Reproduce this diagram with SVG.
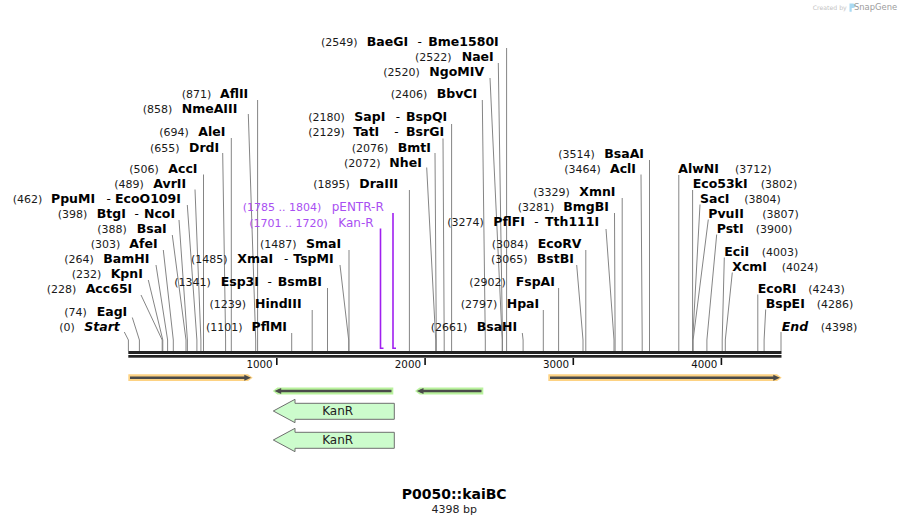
<svg xmlns="http://www.w3.org/2000/svg" width="910" height="525" viewBox="0 0 910 525">
<style>
text{font-family:"DejaVu Sans",Verdana,sans-serif}
.n{font-size:11px;fill:#1a1a1a}
.b{font-size:12.5px;font-weight:bold;fill:#000}
.bi{font-size:12.5px;font-weight:bold;font-style:italic;fill:#000}
.d{font-size:12px;fill:#000}
.p{font-size:11px;fill:#a94ff2}
.pn{font-size:12px;fill:#a94ff2}
.tk{font-size:10.3px;fill:#111;text-anchor:end}
.c path{fill:none;stroke:#858585;stroke-width:1}
.c .pr{stroke:#a020f0;stroke-width:1.6}
.orb{fill:#fdd283}
.grb{fill:#b9f29d}
.core{stroke:#4a4a4a;stroke-width:2.6}
.head{fill:#4a4a4a}
.kan{fill:#ccfccc;stroke:#6e6e6e;stroke-width:1}
.kt{font-size:12px;fill:#222;text-anchor:middle}
</style>

<!-- watermark -->
<g id="watermark">
<text x="812.7" y="9.5" style="font-size:6.2px;fill:#c4c4c4">Created by</text>
<path d="M849.5,3.5 h3.5 a2.3,2.3 0 0 1 0,4.6 h-1.3 v3.6 h-2.2 z" fill="#a9d9f2"/>
<text x="854" y="10" style="font-size:8.4px;fill:#9c9c9c">SnapGene</text>
</g>

<!-- connectors -->
<g id="connectors" class="c">
<path d="M257.6,100 V351"/>
<path d="M248.3,114 L255.7,340 V351"/>
<path d="M231.3,138 V351"/>
<path d="M222.7,153 L225.6,340 V351"/>
<path d="M203.5,174.5 V351"/>
<path d="M195,189.5 L200.9,340 V351"/>
<path d="M187.3,205 L196.9,340 V351"/>
<path d="M179,220 L187.4,340 V351"/>
<path d="M172.3,235 L186,340 V351"/>
<path d="M163.3,250 L173.3,340 V351"/>
<path d="M156,265 L167.6,340 V351"/>
<path d="M148.3,280 L162.8,340 V351"/>
<path d="M141,295 L162.2,340 V351"/>
<path d="M132.3,317.5 L139.4,340 V351"/>
<path d="M124.3,332 L128.4,340 V351"/>
<path d="M340,265 L348.7,340 V351"/>
<path d="M349,250 V351"/>
<path d="M327.5,288 V351"/>
<path d="M312.2,310 V351"/>
<path d="M291.7,333 V351"/>
<path d="M409.4,190 V351"/>
<path d="M506.6,48 V351"/>
<path d="M498.3,63 L502.5,340 V351"/>
<path d="M490,78 L502.2,340 V351"/>
<path d="M482.3,100 L485.3,340 V351"/>
<path d="M451.6,124 V351"/>
<path d="M443,138.5 L444.2,340 V351"/>
<path d="M435,153 L436.3,340 V351"/>
<path d="M426.7,167.5 L435.7,340 V351"/>
<path d="M649.5,160 V351"/>
<path d="M641,174.5 L642.2,340 V351"/>
<path d="M622.2,198 V351"/>
<path d="M614.5,213 L615.1,340 V351"/>
<path d="M606,229 L614,340 V351"/>
<path d="M585.8,250 V351"/>
<path d="M576.7,265 L583,340 V351"/>
<path d="M558.6,288 V351"/>
<path d="M543.3,310 V351"/>
<path d="M522.3,333 L523.1,340 V351"/>
<path d="M678.8,175 V351"/>
<path d="M692.6,190 V351"/>
<path d="M700,204.5 L692.7,340 V351"/>
<path d="M708.3,219.5 L693.1,340 V351"/>
<path d="M716.7,234.5 L706.9,340 V351"/>
<path d="M724.3,257.5 L722.2,340 V351"/>
<path d="M732.3,272.5 L725.3,340 V351"/>
<path d="M757.8,294.5 V351"/>
<path d="M765.7,309.5 L764.1,340 V351"/>
<path d="M781,332 V351"/>
<path class="pr" d="M393,213 V348.3 H396"/>
<path class="pr" d="M380.5,228.5 V348.3 H383.5"/>
</g>

<!-- backbone and ruler -->
<g id="backbone">
<rect x="128.3" y="351" width="653.2" height="3" fill="#242424"/>
<rect x="128.3" y="355" width="653.2" height="2.7" fill="#242424"/>
<rect x="276" y="358" width="1.6" height="7" fill="#111"/>
<rect x="424.3" y="358" width="1.6" height="7" fill="#111"/>
<rect x="572.5" y="358" width="1.6" height="7" fill="#111"/>
<rect x="720.6" y="358" width="1.6" height="7" fill="#111"/>
<text class="tk" x="272.7" y="367.5">1000</text>
<text class="tk" x="421" y="367.5">2000</text>
<text class="tk" x="569.2" y="367.5">3000</text>
<text class="tk" x="717.4" y="367.5">4000</text>
</g>

<!-- left column sites -->
<g id="site-AflII"><text class="n" x="181.7" y="98">(871)</text><text class="b" x="220" y="98">AflII</text></g>
<g id="site-NmeAIII"><text class="n" x="142.7" y="113">(858)</text><text class="b" x="181.7" y="113">NmeAIII</text></g>
<g id="site-AleI"><text class="n" x="159.3" y="136">(694)</text><text class="b" x="198.3" y="136">AleI</text></g>
<g id="site-DrdI"><text class="n" x="150" y="151.5">(655)</text><text class="b" x="189" y="151.5">DrdI</text></g>
<g id="site-AccI"><text class="n" x="129.3" y="173">(506)</text><text class="b" x="168.3" y="173">AccI</text></g>
<g id="site-AvrII"><text class="n" x="114.3" y="188">(489)</text><text class="b" x="153.3" y="188">AvrII</text></g>
<g id="site-PpuMI"><text class="n" x="12.7" y="203">(462)</text><text class="b" x="51" y="203">PpuMI</text><text class="d" x="106.5" y="203">-</text><text class="b" x="115" y="203">EcoO109I</text></g>
<g id="site-BtgI"><text class="n" x="57.7" y="218">(398)</text><text class="b" x="96.7" y="218">BtgI</text><text class="d" x="134.5" y="218">-</text><text class="b" x="144" y="218">NcoI</text></g>
<g id="site-BsaI"><text class="n" x="97.3" y="233">(388)</text><text class="b" x="136.7" y="233">BsaI</text></g>
<g id="site-AfeI"><text class="n" x="90.7" y="248">(303)</text><text class="b" x="129.3" y="248">AfeI</text></g>
<g id="site-BamHI"><text class="n" x="64.3" y="263">(264)</text><text class="b" x="103.3" y="263">BamHI</text></g>
<g id="site-KpnI"><text class="n" x="71.7" y="278">(232)</text><text class="b" x="110.7" y="278">KpnI</text></g>
<g id="site-Acc65I"><text class="n" x="46.7" y="293">(228)</text><text class="b" x="85.7" y="293">Acc65I</text></g>
<g id="site-EagI"><text class="n" x="64.3" y="316">(74)</text><text class="b" x="96.7" y="316">EagI</text></g>
<g id="site-Start"><text class="n" x="59.3" y="331">(0)</text><text class="bi" x="84.3" y="331">Start</text></g>

<!-- middle left -->
<g id="site-XmaI"><text class="n" x="191" y="263">(1485)</text><text class="b" x="237.3" y="263">XmaI</text><text class="d" x="284" y="263">-</text><text class="b" x="293.3" y="263">TspMI</text></g>
<g id="site-SmaI"><text class="n" x="260" y="248">(1487)</text><text class="b" x="306" y="248">SmaI</text></g>
<g id="site-Esp3I"><text class="n" x="174.3" y="286">(1341)</text><text class="b" x="220.7" y="286">Esp3I</text><text class="d" x="267.5" y="286">-</text><text class="b" x="277.7" y="286">BsmBI</text></g>
<g id="site-HindIII"><text class="n" x="209.5" y="308">(1239)</text><text class="b" x="255" y="308">HindIII</text></g>
<g id="site-PflMI"><text class="n" x="206" y="331">(1101)</text><text class="b" x="251.5" y="331">PflMI</text></g>
<g id="site-DraIII"><text class="n" x="313.3" y="188">(1895)</text><text class="b" x="359.3" y="188">DraIII</text></g>

<!-- primers -->
<g id="primer-pENTR-R"><text class="p" x="242.7" y="211">(1785 .. 1804)</text><text class="pn" x="331.7" y="211">pENTR-R</text></g>
<g id="primer-Kan-R"><text class="p" x="249.3" y="226.5">(1701 .. 1720)</text><text class="pn" x="338.3" y="226.5">Kan-R</text></g>

<!-- top middle -->
<g id="site-BaeGI"><text class="n" x="321" y="46">(2549)</text><text class="b" x="366.7" y="46">BaeGI</text><text class="d" x="417.5" y="46">-</text><text class="b" x="428.3" y="46">Bme1580I</text></g>
<g id="site-NaeI"><text class="n" x="415" y="61">(2522)</text><text class="b" x="461.7" y="61">NaeI</text></g>
<g id="site-NgoMIV"><text class="n" x="383.3" y="76">(2520)</text><text class="b" x="429.3" y="76">NgoMIV</text></g>
<g id="site-BbvCI"><text class="n" x="390.7" y="98">(2406)</text><text class="b" x="436.7" y="98">BbvCI</text></g>
<g id="site-SapI"><text class="n" x="308.3" y="121">(2180)</text><text class="b" x="354.3" y="121">SapI</text><text class="d" x="395.8" y="121">-</text><text class="b" x="406" y="121">BspQI</text></g>
<g id="site-TatI"><text class="n" x="308.3" y="136">(2129)</text><text class="b" x="353.3" y="136">TatI</text><text class="d" x="394.2" y="136">-</text><text class="b" x="406" y="136">BsrGI</text></g>
<g id="site-BmtI"><text class="n" x="351.7" y="151.5">(2076)</text><text class="b" x="397.7" y="151.5">BmtI</text></g>
<g id="site-NheI"><text class="n" x="344" y="166.5">(2072)</text><text class="b" x="389.3" y="166.5">NheI</text></g>

<!-- right middle -->
<g id="site-BsaAI"><text class="n" x="558.3" y="158">(3514)</text><text class="b" x="604.3" y="158">BsaAI</text></g>
<g id="site-AclI"><text class="n" x="564.3" y="173">(3464)</text><text class="b" x="610" y="173">AclI</text></g>
<g id="site-XmnI"><text class="n" x="533.3" y="196">(3329)</text><text class="b" x="579.3" y="196">XmnI</text></g>
<g id="site-BmgBI"><text class="n" x="517.7" y="211">(3281)</text><text class="b" x="563.3" y="211">BmgBI</text></g>
<g id="site-PflFI"><text class="n" x="447.3" y="226">(3274)</text><text class="b" x="493.3" y="226">PflFI</text><text class="d" x="534.2" y="226">-</text><text class="b" x="545" y="226">Tth111I</text></g>
<g id="site-EcoRV"><text class="n" x="491.7" y="248">(3084)</text><text class="b" x="537.7" y="248">EcoRV</text></g>
<g id="site-BstBI"><text class="n" x="491" y="263">(3065)</text><text class="b" x="536.7" y="263">BstBI</text></g>
<g id="site-FspAI"><text class="n" x="469.3" y="286">(2902)</text><text class="b" x="515.7" y="286">FspAI</text></g>
<g id="site-HpaI"><text class="n" x="460.7" y="308">(2797)</text><text class="b" x="506.7" y="308">HpaI</text></g>
<g id="site-BsaHI"><text class="n" x="430.7" y="331">(2661)</text><text class="b" x="476.7" y="331">BsaHI</text></g>

<!-- right column -->
<g id="site-AlwNI"><text class="b" x="678.3" y="173">AlwNI</text><text class="n" x="735" y="173">(3712)</text></g>
<g id="site-Eco53kI"><text class="b" x="692.7" y="188">Eco53kI</text><text class="n" x="760.7" y="188">(3802)</text></g>
<g id="site-SacI"><text class="b" x="700" y="203">SacI</text><text class="n" x="744.3" y="203">(3804)</text></g>
<g id="site-PvuII"><text class="b" x="708.3" y="218">PvuII</text><text class="n" x="762.3" y="218">(3807)</text></g>
<g id="site-PstI"><text class="b" x="716.7" y="233">PstI</text><text class="n" x="755.7" y="233">(3900)</text></g>
<g id="site-EciI"><text class="b" x="724.3" y="256">EciI</text><text class="n" x="761.7" y="256">(4003)</text></g>
<g id="site-XcmI"><text class="b" x="732.3" y="271">XcmI</text><text class="n" x="781.7" y="271">(4024)</text></g>
<g id="site-EcoRI"><text class="b" x="757.7" y="293">EcoRI</text><text class="n" x="808.3" y="293">(4243)</text></g>
<g id="site-BspEI"><text class="b" x="765.7" y="308">BspEI</text><text class="n" x="816.7" y="308">(4286)</text></g>
<g id="site-End"><text class="bi" x="781.7" y="331">End</text><text class="n" x="820.7" y="331">(4398)</text></g>

<!-- features -->
<g id="feature-orange-1">
<path class="orb" d="M128.3,374.3 H248 L252.7,377.7 L248,381.1 H128.3 Z"/>
<line class="core" x1="130" y1="377.7" x2="247" y2="377.7"/>
<path class="head" d="M244.3,374.7 L251,377.7 L244.3,380.7 Z"/>
</g>
<g id="feature-orange-2">
<path class="orb" d="M548.3,374.3 H777 L781.7,377.7 L777,381.1 H548.3 Z"/>
<line class="core" x1="550" y1="377.7" x2="776" y2="377.7"/>
<path class="head" d="M773.3,374.7 L780,377.7 L773.3,380.7 Z"/>
</g>
<g id="feature-green-1">
<path class="grb" d="M272.7,391 L277.4,387.6 H393.3 V394.4 H277.4 Z"/>
<line class="core" x1="278" y1="391" x2="391.5" y2="391"/>
<path class="head" d="M274.5,391 L281.2,388 L281.2,394 Z"/>
</g>
<g id="feature-green-2">
<path class="grb" d="M415,391 L419.7,387.6 H483.3 V394.4 H419.7 Z"/>
<line class="core" x1="420" y1="391" x2="481.5" y2="391"/>
<path class="head" d="M416.8,391 L423.5,388 L423.5,394 Z"/>
</g>
<g id="feature-KanR-1">
<path class="kan" d="M273.3,411 L295,399.3 V403.3 H394.3 V419.3 H295 V422.7 Z"/>
<text class="kt" x="337.7" y="415.3">KanR</text>
</g>
<g id="feature-KanR-2">
<path class="kan" d="M273.3,440 L295,428.3 V432.3 H394.3 V448.3 H295 V451.7 Z"/>
<text class="kt" x="337.7" y="444.3">KanR</text>
</g>

<!-- title -->
<g id="title">
<text x="454.2" y="498.5" style="font-size:14px;font-weight:bold;fill:#000;text-anchor:middle">P0050::kaiBC</text>
<text x="454.2" y="512.5" style="font-size:11px;fill:#222;text-anchor:middle">4398 bp</text>
</g>
</svg>
